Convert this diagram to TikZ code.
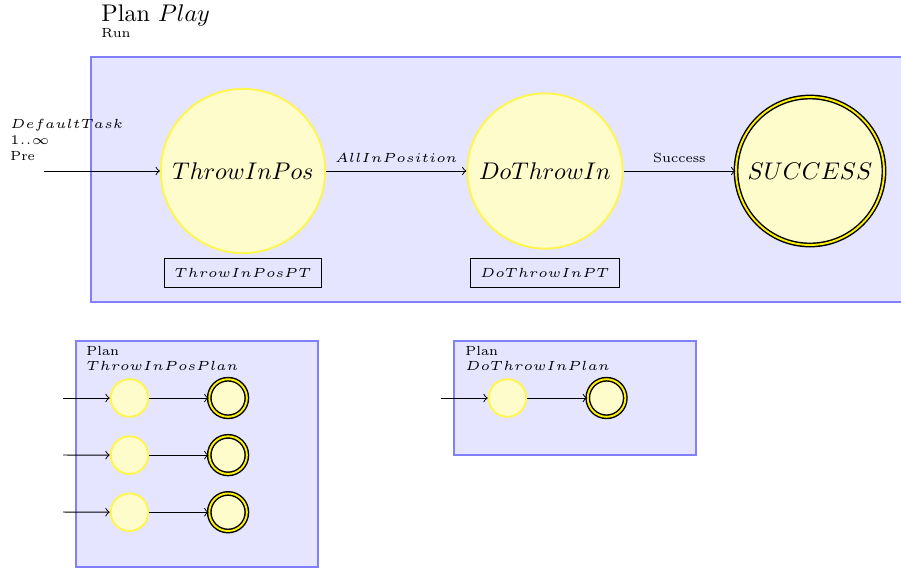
\RequirePackage{fix-cm}
\documentclass[tikz,border=0pt]{standalone}
\usepackage{amsmath, amssymb}

\newcommand{\tinylabel}{\fontsize{5.5}{6.6}\selectfont}

\begin{document}
\begin{tikzpicture}[x=0.415pt,y=-0.415pt,
        planbox/.style={draw=blue!50,fill=blue!10,thick},
        planstate/.style={circle,draw=yellow!70,fill=yellow!20,thick,inner sep=4pt},
        endstate/.style={circle,draw=black,fill=yellow!20,semithick,double=yellow,double distance=0.8pt,inner sep=4pt},
        substate/.style={planstate,minimum size=15.6pt,inner sep=0pt},
        subend/.style={endstate,minimum size=15.6pt,inner sep=0pt},
        task/.style={draw,rectangle,inner sep=4pt,font=\tinylabel},
        info/.style={font=\tinylabel,inner sep=0pt,anchor=base west}]
        \useasboundingbox (0,0) rectangle (901,572);

        \draw[planbox] (91,57) rectangle (910,302);
        \draw[planbox] (76,341) rectangle (318,567);
        \draw[planbox] (454,341) rectangle (696,455);

        \node (title) [info,font=\normalsize] at (101,21) {Plan \( Play \)};
        \node (run) [info] at (101,37) {Run};

        \node (throwinpos) [planstate] at (243,171) {\( ThrowInPos \)};
        \node (dothrowin) [planstate, right of=throwinpos, node distance=125.3pt] {\( DoThrowIn \)};
        \node (success) [endstate, right of=dothrowin, node distance=110pt] {\( SUCCESS \)};

        \node (throwinpospt) [task, below of=throwinpos, node distance=42.3pt] {\( ThrowInPosPT \)};
        \node (dothrowinpt) [task, below of=dothrowin, node distance=42.3pt] {\( DoThrowInPT \)};

        \coordinate (start) at (44,171);
        \node (pre) [info, align=left, anchor=south west] at (10,161) {\( DefaultTask \)\\\( 1..\infty \)\\Pre};

        \path[->]
            (start) edge (throwinpos)
            (throwinpos) edge node [above, font=\tinylabel] {\( AllInPosition \)} (dothrowin)
            (dothrowin) edge node [above, font=\tinylabel] {Success} (success)
        ;

        \node (planpos) [info] at (86,355) {Plan};
        \node (planposname) [info] at (86,370) {\( ThrowInPosPlan \)};

        \node (posa) [substate] at (129.5,398) {};
        \node (posaend) [subend, right of=posa, node distance=40.9pt] {};
        \node (posb) [substate, below of=posa, node distance=23.7pt] {};
        \node (posbend) [subend, right of=posb, node distance=40.9pt] {};
        \node (posc) [substate, below of=posb, node distance=23.7pt] {};
        \node (poscend) [subend, right of=posc, node distance=40.9pt] {};

        \coordinate (posastart) at (63,398);
        \coordinate (posbstart) at (63,455);
        \coordinate (poscstart) at (63,512);

        \node (planthrow) [info] at (465,355) {Plan};
        \node (planthrowname) [info] at (465,370) {\( DoThrowInPlan \)};

        \node (throw) [substate] at (507.5,398) {};
        \node (throwend) [subend, right of=throw, node distance=41.1pt] {};
        \coordinate (throwstart) at (441,398);

        \path[->]
            (posastart) edge (posa)
            (posa) edge (posaend)
            (posbstart) edge (posb)
            (posb) edge (posbend)
            (poscstart) edge (posc)
            (posc) edge (poscend)

            (throwstart) edge (throw)
            (throw) edge (throwend)
        ;
    \end{tikzpicture}
\end{document}
